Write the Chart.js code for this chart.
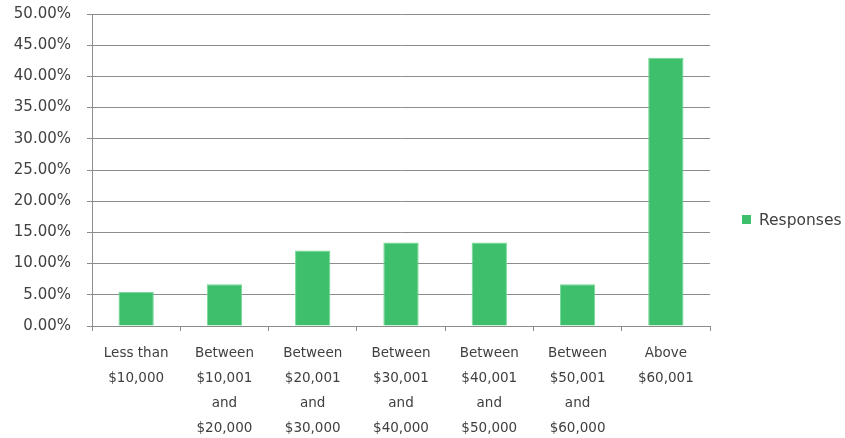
<!DOCTYPE html>
<html>
<head>
<meta charset="utf-8">
<script src="https://cdn.jsdelivr.net/npm/chart.js@4"></script>
<style>
	body { margin: 0; background: #fff; }
</style>
</head>
<body>
<canvas id="chart" width="845" height="438"></canvas>
<script>
// Income brackets (multi-line labels)
const categories = [
	['Less than', '$10,000'],
	['Between', '$10,001', 'and', '$20,000'],
	['Between', '$20,001', 'and', '$30,000'],
	['Between', '$30,001', 'and', '$40,000'],
	['Between', '$40,001', 'and', '$50,000'],
	['Between', '$50,001', 'and', '$60,000'],
	['Above', '$60,001']
];
// share of responses, in percent
const responses = [5.5, 6.7, 12.1, 13.4, 13.4, 6.7, 43.0];
const seriesLabel = 'Responses';
const yMax = 50;
const yStep = 5;

const gridColor = '#8c8c8c';
const textColor = '#404040';
const barColor = '#3dbf6b';

// legend on the right, drawn by hand so the plot area keeps its width
const sideLegend = {
	id: 'sideLegend',
	afterDraw(chart) {
		const c = chart.ctx;
		const area = chart.chartArea;
		const x = area.right + 32;
		const y = chart.height / 2 + 1;
		c.save();
		c.fillStyle = barColor;
		c.fillRect(x, y - 5, 9, 9);
		c.fillStyle = textColor;
		c.font = '15.5px "DejaVu Sans"';
		c.textBaseline = 'middle';
		c.textAlign = 'left';
		c.fillText(chart.data.datasets[0].label, x + 17, y + 1);
		c.restore();
	}
};

const ctx = document.getElementById('chart').getContext('2d');

const chart = new Chart(ctx, {
	type: 'bar',
	data: {
		labels: categories,
		datasets: [{
			label: seriesLabel,
			data: responses,
			backgroundColor: barColor,
			borderColor: '#74d896',
			borderWidth: 1,
			categoryPercentage: 1,
			barPercentage: 0.4
		}]
	},
	options: {
		responsive: false,
		animation: false,
		layout: {
			padding: { top: 14, right: 135, bottom: 0, left: 0 }
		},
		plugins: {
			legend: { display: false },
			tooltip: { enabled: false }
		},
		scales: {
			x: {
				grid: {
					offset: true,
					drawOnChartArea: false,
					tickLength: 5,
					color: gridColor
				},
				border: { color: gridColor },
				ticks: {
					maxRotation: 0,
					autoSkip: false,
					color: textColor,
					padding: 10,
					font: { family: 'DejaVu Sans', size: 13.5, lineHeight: 1.85 }
				},
				afterFit: (scale) => { scale.height = 112; }
			},
			y: {
				min: 0,
				max: yMax,
				grid: {
					tickLength: 5,
					color: gridColor
				},
				border: { color: gridColor },
				ticks: {
					stepSize: yStep,
					color: textColor,
					padding: 16,
					font: { family: 'DejaVu Sans', size: 15 },
					callback: (v) => v.toFixed(2) + '%'
				},
				afterFit: (scale) => {
					scale.width = 92;
					// tick padding would otherwise push the plot top down
					scale.paddingTop = 0;
					scale.paddingBottom = 0;
				}
			}
		}
	},
	plugins: [sideLegend]
});
</script>
</body>
</html>
